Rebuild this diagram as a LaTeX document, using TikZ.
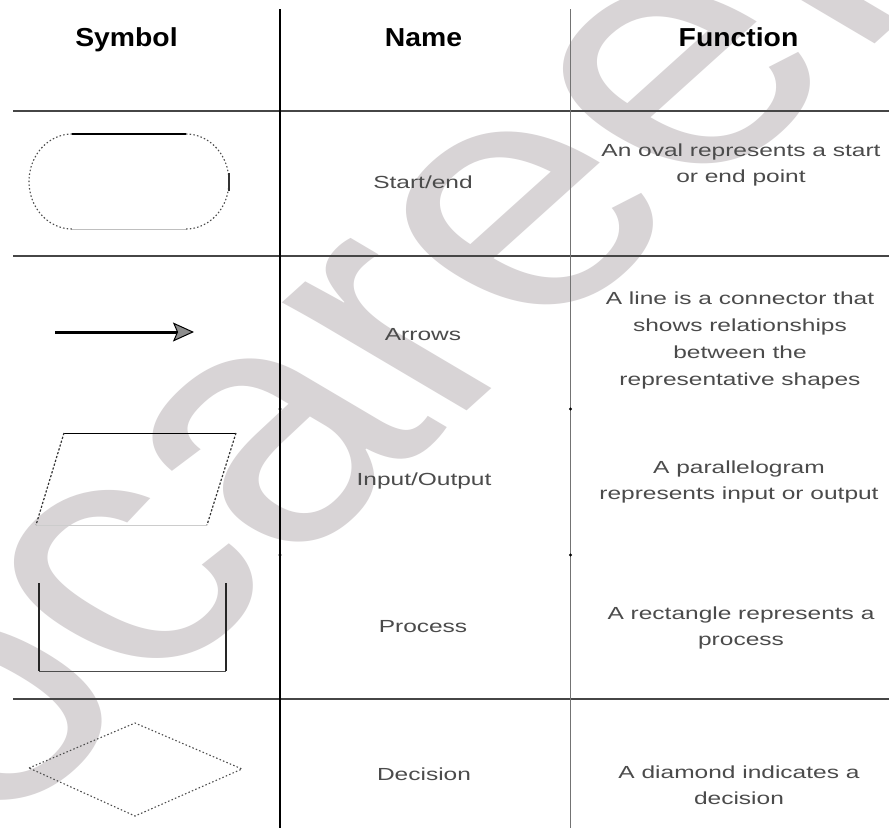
\documentclass[tikz,border=0pt]{standalone}
\usepackage{fontspec}
\setmainfont{Liberation Sans}
\newfontfamily\headfont{Liberation Sans}[FakeStretch=1.09]
\newfontfamily\bodyfont{Liberation Sans}[FakeStretch=1.4]
\newfontfamily\markfont{Liberation Sans}
\usetikzlibrary{arrows.meta}
\definecolor{wmark}{RGB}{216,212,214}
\definecolor{rulegray}{RGB}{70,70,70}
\definecolor{txtgray}{RGB}{75,75,75}
\tikzset{
  headtxt/.style={font=\headfont\bfseries\fontsize{26}{30}\selectfont, anchor=base, inner sep=0pt},
  bodytxt/.style={font=\bodyfont\fontsize{17.5}{26}\selectfont, text=txtgray, align=center, inner sep=0pt},
  hrule/.style={draw=rulegray, line width=1.6pt},
  dotted outline/.style={draw=black!70, line width=1.1pt, dash pattern=on 1.5pt off 2.2pt},
  dashed outline/.style={draw=black!80, line width=1.2pt, dash pattern=on 2.2pt off 1.8pt},
  tick dot/.style={fill=black, draw=none},
}
\begin{document}
\begin{tikzpicture}[x=1pt,y=-1pt]
\useasboundingbox[fill=white] (0,0) rectangle (889,828);

% faint watermark lettering behind the table
\begin{scope}[xscale=1.37]
  \node[rotate=51, transform shape, anchor=base west, inner sep=0pt, text=wmark,
        font=\markfont\fontsize{327}{327}\selectfont] (wm) at (-4.9,838.3) {ocareer};
\end{scope}

% table rules
\coordinate (hl0) at (13,111);  \coordinate (hr0) at (889,111);
\coordinate (hl1) at (13,256);  \coordinate (hr1) at (889,256);
\coordinate (hl2) at (13,699);  \coordinate (hr2) at (889,699);
\coordinate (v1t) at (280,9);   \coordinate (v1b) at (280,828);
\coordinate (v2t) at (570.5,9); \coordinate (v2b) at (570.5,828);
\draw[hrule, line width=2pt] (hl0) -- (hr0);
\draw[hrule] (hl1) -- (hr1);
\draw[hrule] (hl2) -- (hr2);
\draw[black, line width=2pt] (v1t) -- (v1b);
\draw[black!55, line width=1pt] (v2t) -- (v2b);
\foreach \yy in {409,555} {
  \fill[tick dot] (280,\yy) circle (1.6pt);
  \fill[tick dot] (570.5,\yy) circle (1.6pt);
}

% header
\node[headtxt] (hsym)  at (126.5,46.5) {Symbol};
\node[headtxt] (hname) at (423.5,46.5) {Name};
\node[headtxt] (hfun)  at (738.5,46.5) {Function};

% start/end oval
\draw[dotted outline] (72,134) arc[start angle=270, end angle=90, x radius=43, y radius=47.5];
\draw[dotted outline] (186,134) arc[start angle=270, end angle=450, x radius=43, y radius=47.5];
\draw[black, line width=1.6pt] (72,134) -- (186,134);
\draw[black!25, line width=1pt] (72,229) -- (186,229);
\draw[black!80, line width=1.5pt] (229,173) -- (229,191);

% arrow symbol
\coordinate (arrtail) at (55,332);
\coordinate (arrtip) at (194,332);
\draw[black, line width=3pt,
  -{Stealth[length=21pt, width=19pt, inset=4pt, line width=1pt, fill=black!45]}]
  (arrtail) -- (arrtip);

% input/output parallelogram
\coordinate (pa) at (64,433);  \coordinate (pb) at (236,433);
\coordinate (pc) at (207,525); \coordinate (pd) at (36,525);
\draw[black, line width=1pt] (pa) -- (pb);
\draw[black!20, line width=1pt] (pd) -- (pc);
\draw[dashed outline] (pa) -- (pd);
\draw[dashed outline] (pb) -- (pc);

% process rectangle
\coordinate (ra) at (39,583);  \coordinate (rb) at (226,583);
\coordinate (rc) at (226,671); \coordinate (rd) at (39,671);
\draw[black!85, line width=1.5pt] (ra) -- (rd);
\draw[black!85, line width=1.5pt] (rb) -- (rc);
\draw[black!70, line width=1pt] (rd) -- (rc);

% decision diamond
\coordinate (dl) at (29,768);  \coordinate (dt) at (135,723);
\coordinate (dr) at (242,769); \coordinate (db) at (135,816);
\draw[dotted outline] (dl) -- (dt) -- (dr) -- (db) -- cycle;

% names
\node[bodytxt] (n1) at (423,182) {Start/end};
\node[bodytxt] (n2) at (423,335) {Arrows};
\node[bodytxt] (n3) at (424,481) {Input/Output};
\node[bodytxt] (n4) at (423,627) {Process};
\node[bodytxt] (n5) at (424,774) {Decision};

% functions
\node[bodytxt] (f1) at (741,165) {An oval represents a start\\or end point};
\node[bodytxt, font=\bodyfont\fontsize{17.5}{27}\selectfont] (f2) at (740,340)
  {A line is a connector that\\shows relationships\\between the\\representative shapes};
\node[bodytxt] (f3) at (739,482) {A parallelogram\\represents input or output};
\node[bodytxt] (f4) at (741,628) {A rectangle represents a\\process};
\node[bodytxt] (f5) at (739,785) {A diamond indicates a\\decision};
\end{tikzpicture}
\end{document}
